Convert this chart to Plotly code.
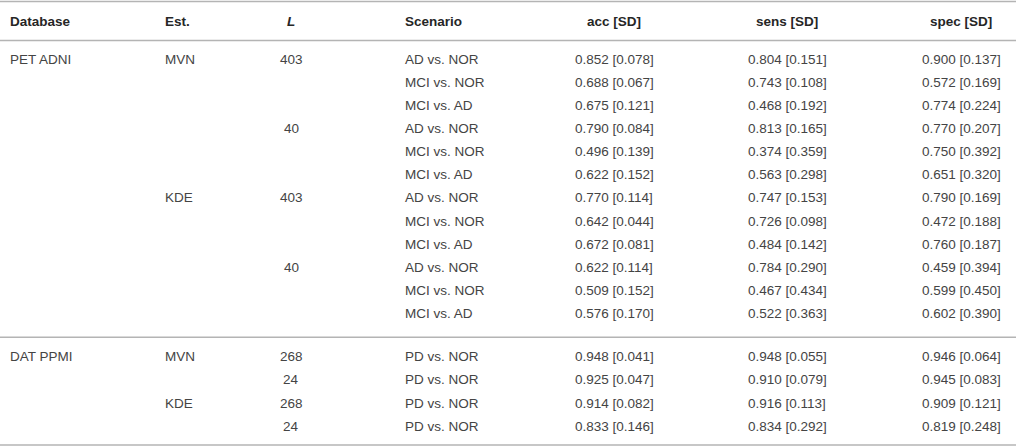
import plotly.graph_objects as go

headers = ["Database", "Est.", "<i>L</i>", "Scenario", "acc [SD]", "sens [SD]", "spec [SD]"]

database = ["PET ADNI", "", "", "", "", "", "", "", "", "", "", "",
            "DAT PPMI", "", "", ""]
est = ["MVN", "", "", "", "", "", "KDE", "", "", "", "", "",
       "MVN", "", "KDE", ""]
L = ["403", "", "", "40", "", "", "403", "", "", "40", "", "",
     "268", "24", "268", "24"]
scenario = ["AD vs. NOR", "MCI vs. NOR", "MCI vs. AD"] * 4 + ["PD vs. NOR"] * 4

acc = [0.852, 0.688, 0.675, 0.790, 0.496, 0.622, 0.770, 0.642, 0.672, 0.622, 0.509, 0.576,
       0.948, 0.925, 0.914, 0.833]
acc_sd = [0.078, 0.067, 0.121, 0.084, 0.139, 0.152, 0.114, 0.044, 0.081, 0.114, 0.152, 0.170,
          0.041, 0.047, 0.082, 0.146]
sens = [0.804, 0.743, 0.468, 0.813, 0.374, 0.563, 0.747, 0.726, 0.484, 0.784, 0.467, 0.522,
        0.948, 0.910, 0.916, 0.834]
sens_sd = [0.151, 0.108, 0.192, 0.165, 0.359, 0.298, 0.153, 0.098, 0.142, 0.290, 0.434, 0.363,
           0.055, 0.079, 0.113, 0.292]
spec = [0.900, 0.572, 0.774, 0.770, 0.750, 0.651, 0.790, 0.472, 0.760, 0.459, 0.599, 0.602,
        0.946, 0.945, 0.909, 0.819]
spec_sd = [0.137, 0.169, 0.224, 0.207, 0.392, 0.320, 0.169, 0.188, 0.187, 0.394, 0.450, 0.390,
           0.064, 0.083, 0.121, 0.248]

W, H = 1016, 448
col_x = [8, 163, 291, 403, 614, 787, 961]
col_anchor = ["left", "left", "center", "left", "center", "center", "center"]
header_y = 21
first_row = 59
pitch = 23.15
group_gap = 20
txt = "#444444"
line_col = "#b4b4b4"
font = "Liberation Sans, Arial, sans-serif"
fsize = 13.5


def fmt(v, sd):
    return "%.3f [%.3f]" % (v, sd)


columns = [
    database, est, L, scenario,
    [fmt(a, b) for a, b in zip(acc, acc_sd)],
    [fmt(a, b) for a, b in zip(sens, sens_sd)],
    [fmt(a, b) for a, b in zip(spec, spec_sd)],
]

# row y positions, extra gap where a new database group starts
row_y = []
gap = 0
for i, d in enumerate(database):
    if i > 0 and d != "":
        gap += group_gap
    row_y.append(first_row + pitch * i + gap)

fig = go.Figure()
fig.add_trace(go.Scatter(x=[0, W], y=[0, H], mode="markers",
                         marker=dict(opacity=0), hoverinfo="skip", showlegend=False))

anns = []
for c, h in enumerate(headers):
    anns.append(dict(x=col_x[c], y=header_y, text="<b>%s</b>" % h, xanchor=col_anchor[c],
                     yanchor="middle", showarrow=False,
                     font=dict(family=font, size=fsize, color="#262626")))
    for r, val in enumerate(columns[c]):
        if val == "":
            continue
        anns.append(dict(x=col_x[c], y=row_y[r], text=val, xanchor=col_anchor[c],
                         yanchor="middle", showarrow=False,
                         font=dict(family=font, size=fsize, color=txt)))

# horizontal rules
rules = [1.5, 40.5, H - 3]
for i, d in enumerate(database):
    if i > 0 and d != "":
        rules.append((row_y[i - 1] + row_y[i]) / 2 + 2)
shapes = [dict(type="line", xref="paper", yref="y", x0=0, x1=1, y0=y, y1=y,
               line=dict(color=line_col, width=1.6)) for y in rules]

fig.update_layout(
    width=W, height=H,
    margin=dict(l=0, r=0, t=0, b=0),
    paper_bgcolor="white", plot_bgcolor="white",
    xaxis=dict(range=[0, W], visible=False, fixedrange=True),
    yaxis=dict(range=[H, 0], visible=False, fixedrange=True),
    annotations=anns,
    shapes=shapes,
    showlegend=False,
)

fig.write_html("out.html", config=dict(displayModeBar=False),
               post_script="document.body.style.margin='0';")
